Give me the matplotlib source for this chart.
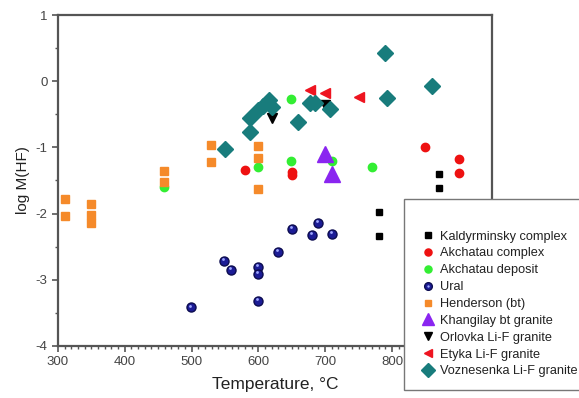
import numpy as np
import matplotlib
matplotlib.use("Agg")
import matplotlib.pyplot as plt
from matplotlib.ticker import MultipleLocator

plt.rcParams['font.family'] = ['Liberation Sans', 'DejaVu Sans']
plt.rcParams['axes.unicode_minus'] = False

# data (temperature in C, log M(HF))
kald_t = [780, 780, 870, 870]
kald_m = [-1.98, -2.34, -1.40, -1.62]

akc_t = [580, 650, 650, 849, 900, 900]
akc_m = [-1.34, -1.37, -1.42, -1.00, -1.17, -1.38]

akd_t = [459, 599, 649, 649, 710, 770]
akd_m = [-1.60, -1.29, -1.20, -0.27, -1.21, -1.30]

ural_t = [499, 549, 559, 599, 599, 599, 630, 650, 680, 690, 710]
ural_m = [-3.42, -2.72, -2.85, -2.81, -2.91, -3.32, -2.58, -2.24, -2.33, -2.14, -2.31]

hend_t = [310, 310, 349, 349, 349, 459, 459, 529, 529, 599, 599, 599]
hend_m = [-1.78, -2.03, -1.85, -2.02, -2.15, -1.36, -1.53, -0.97, -1.22, -0.98, -1.16, -1.63]

khan_t = [700, 710]
khan_m = [-1.10, -1.40]

orl_t = [620, 700]
orl_m = [-0.55, -0.36]

ety_t = [677, 700, 750]
ety_m = [-0.13, -0.17, -0.24]

voz_t = [550, 587, 587, 600, 607, 616, 620, 660, 677, 685, 707, 790, 793, 860]
voz_m = [-1.03, -0.76, -0.55, -0.44, -0.37, -0.28, -0.39, -0.62, -0.33, -0.33, -0.42, 0.43, -0.26, -0.07]

fig = plt.figure(figsize=(5.79, 3.98), dpi=100)
ax = fig.add_axes([0.100, 0.131, 0.750, 0.831])

h1, = ax.plot(kald_t, kald_m, 's', color='black', ms=5, ls='none')
h2, = ax.plot(akc_t, akc_m, 'o', color='#ee1111', mec='#ee1111', ms=6, ls='none')
h3, = ax.plot(akd_t, akd_m, 'o', color='#33ee33', mec='#33ee33', ms=6, ls='none')
h4, = ax.plot(ural_t, ural_m, 'o', color='#1c1c96', mec='#0c0c50', ms=6.5, ls='none')
# little highlight on the spheres
ural_hl, = ax.plot(np.array(ural_t) - 1.5, np.array(ural_m) + 0.03, 'o', color='#9fa8ff',
                   mec='none', ms=2, ls='none')
h5, = ax.plot(hend_t, hend_m, 's', color='#f58a2a', mec='#f58a2a', ms=5.5, ls='none')
h6, = ax.plot(khan_t, khan_m, '^', color='#8a25f0', mec='#8a25f0', ms=11, ls='none')
h7, = ax.plot(orl_t, orl_m, 'v', color='black', ms=6.5, ls='none')
h8, = ax.plot(ety_t, ety_m, '<', color='#ee1420', mec='#ee1420', ms=7, ls='none')
h9, = ax.plot(voz_t, voz_m, 'D', color='#187c7c', mec='#187c7c', ms=8, ls='none')

ax.set_xlim(300, 950)
ax.set_ylim(-4, 1)
ax.xaxis.set_major_locator(MultipleLocator(100))
ax.xaxis.set_minor_locator(MultipleLocator(10))
ax.yaxis.set_major_locator(MultipleLocator(1))
ax.yaxis.set_minor_locator(MultipleLocator(0.5))

frame_col = '#555555'
for s in ax.spines.values():
    s.set_color(frame_col)
    s.set_linewidth(1.6)
ax.tick_params(which='both', direction='out', color=frame_col, labelcolor='#444444', labelsize=9.5)
ax.tick_params(which='major', length=4, width=1.2)
ax.tick_params(which='minor', length=2.5, width=1.0)

ax.set_xlabel('Temperature, °C', fontsize=12.5, color='#222222', labelpad=6)
ax.set_ylabel('log M(HF)', fontsize=11, color='#222222', labelpad=4)

handles = [h1, h2, h3, (h4, ural_hl), h5, h6, h7, h8, h9]
labels = ['Kaldyrminsky complex', 'Akchatau complex', 'Akchatau deposit', 'Ural',
          'Henderson (bt)', 'Khangilay bt granite', 'Orlovka Li-F granite',
          'Etyka Li-F granite', 'Voznesenka Li-F granite']
leg = fig.legend(handles, labels, loc='upper left', bbox_to_anchor=(404 / 579, 1 - 199 / 398),
                 frameon=True, fancybox=False, framealpha=1, fontsize=9.2, title=' ',
                 title_fontsize=10, handlelength=1.7, handletextpad=0.1, labelspacing=0.38,
                 borderpad=1.0, borderaxespad=0, markerscale=0.85)
leg.get_frame().set_edgecolor('#777777')
leg.get_frame().set_linewidth(1.0)
for t in leg.get_texts():
    t.set_color('#222222')

fig.savefig('out.png', dpi=100)
